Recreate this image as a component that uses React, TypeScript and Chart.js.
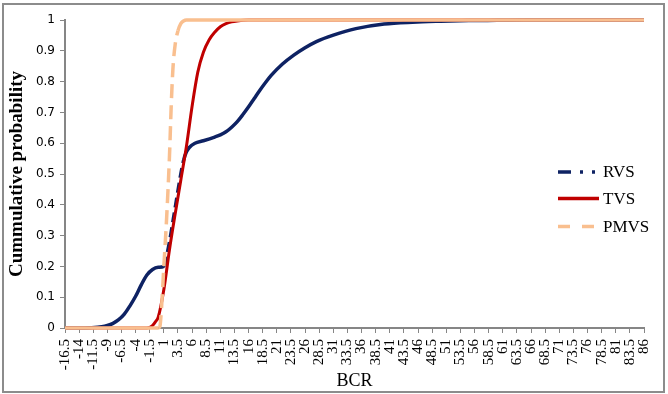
import React, { useEffect, useRef } from 'react';
import { Chart, registerables } from 'chart.js';

Chart.register(...registerables);

// ---- Data ----
const X_TICKS = [-16.5, -14, -11.5, -9, -6.5, -4, -1.5, 1, 3.5, 6, 8.5, 11, 13.5, 16, 18.5, 21, 23.5, 26, 28.5, 31, 33.5, 36, 38.5, 41, 43.5, 46, 48.5, 51, 53.5, 56, 58.5, 61, 63.5, 66, 68.5, 71, 73.5, 76, 78.5, 81, 83.5, 86];

const RVS_X = [-16.5, -14, -12, -10, -9, -8, -7, -6, -5, -4, -3, -2, -1, 0, 1, 1.5, 2, 3, 4, 4.5, 5, 5.5, 6.5, 8, 10, 11, 12, 13, 14, 15, 16, 17, 18, 19, 20, 22, 24, 26, 28, 31, 35, 40, 45, 50, 55, 60, 65, 86];
const RVS_Y = [0, 0, 0.001, 0.004, 0.008, 0.015, 0.027, 0.045, 0.072, 0.103, 0.14, 0.172, 0.19, 0.197, 0.2, 0.235, 0.28, 0.39, 0.5, 0.545, 0.572, 0.586, 0.6, 0.608, 0.62, 0.627, 0.637, 0.652, 0.67, 0.693, 0.718, 0.745, 0.772, 0.797, 0.82, 0.857, 0.886, 0.91, 0.93, 0.951, 0.972, 0.987, 0.993, 0.996, 0.998, 0.999, 1, 1];

const TVS_X = [-16.5, -2, -1.5, -1, -0.5, 0, 1, 2, 3, 4, 5, 6, 7, 8, 9, 10, 11, 12, 13, 14, 16, 86];
const TVS_Y = [0, 0, 0.002, 0.008, 0.02, 0.035, 0.125, 0.255, 0.37, 0.48, 0.59, 0.72, 0.83, 0.895, 0.935, 0.96, 0.978, 0.988, 0.994, 0.997, 1, 1];

const PMVS_X = [-16.5, 0, 0.3, 0.6, 1, 1.5, 2, 2.3, 2.6, 3, 3.5, 4, 4.5, 5, 86];
const PMVS_Y = [0, 0, 0.005, 0.07, 0.2, 0.36, 0.56, 0.72, 0.84, 0.92, 0.965, 0.988, 0.997, 1, 1];

const SERIES_NAMES = ['RVS', 'TVS', 'PMVS'];
const COLORS = ['#0e2263', '#c00000', '#f9bf8f'];

const toPoints = (xs: number[], ys: number[]) => xs.map((x, i) => ({ x, y: ys[i] }));

const AXIS_GRAY = '#868686';

const legendPlugin = {
  id: 'customLegend',
  afterDraw(chart: any) {
    const ctx = chart.ctx as CanvasRenderingContext2D;
    const rows = [172, 198.5, 226.5];
    const x0 = 558;
    const x1 = 599;
    ctx.save();
    SERIES_NAMES.forEach((name, i) => {
      const y = rows[i];
      ctx.beginPath();
      ctx.strokeStyle = COLORS[i];
      ctx.lineWidth = 3.5;
      ctx.lineCap = 'butt';
      if (i === 0) {
        ctx.setLineDash([13, 9, 3, 9, 3, 9]);
        ctx.moveTo(x0, y);
        ctx.lineTo(x1 - 3, y);
      } else if (i === 1) {
        ctx.setLineDash([]);
        ctx.moveTo(x0, y);
        ctx.lineTo(x1, y);
      } else {
        ctx.setLineDash([12, 12]);
        ctx.moveTo(x0, y);
        ctx.lineTo(x1 - 5, y);
      }
      ctx.stroke();
      ctx.setLineDash([]);
      ctx.fillStyle = '#000';
      ctx.font = '17px "Liberation Serif"';
      ctx.textBaseline = 'middle';
      ctx.textAlign = 'left';
      ctx.fillText(name, 603, y + 1);
    });
    ctx.restore();
  },
};

export default function App() {
  const canvasRef = useRef<HTMLCanvasElement | null>(null);

  useEffect(() => {
    if (!canvasRef.current) return;
    const chart = new Chart(canvasRef.current, {
      type: 'line',
      data: {
        datasets: [
          {
            label: SERIES_NAMES[0],
            data: toPoints(RVS_X, RVS_Y),
            borderColor: COLORS[0],
            borderWidth: 3.5,
            pointRadius: 0,
            cubicInterpolationMode: 'monotone',
            order: 3,
            clip: false,
            segment: {
              borderDash: (c: any) => (c.p0.parsed.x >= 1 && c.p1.parsed.x <= 4.5 ? [10, 5] : undefined),
            },
          } as any,
          {
            label: SERIES_NAMES[1],
            data: toPoints(TVS_X, TVS_Y),
            borderColor: COLORS[1],
            borderWidth: 3,
            pointRadius: 0,
            cubicInterpolationMode: 'monotone',
            order: 2,
            clip: false,
          } as any,
          {
            label: SERIES_NAMES[2],
            data: toPoints(PMVS_X, PMVS_Y),
            borderColor: COLORS[2],
            borderWidth: 3.5,
            pointRadius: 0,
            cubicInterpolationMode: 'monotone',
            order: 1,
            clip: false,
            segment: {
              borderDash: (c: any) => (c.p0.parsed.x >= 0 && c.p1.parsed.x <= 3.5 ? [14, 7] : undefined),
            },
          } as any,
        ],
      },
      options: {
        animation: false,
        responsive: false,
        maintainAspectRatio: false,
        layout: { padding: { left: 0, top: 20, right: 13, bottom: 0 } },
        plugins: {
          legend: { display: false },
          tooltip: { enabled: false },
        },
        scales: {
          x: {
            type: 'linear',
            min: -16.5,
            max: 86,
            afterBuildTicks: (scale: any) => {
              scale.ticks = X_TICKS.map((v) => ({ value: v }));
            },
            afterFit: (scale: any) => {
              scale.height = 66;
            },
            ticks: {
              autoSkip: false,
              maxRotation: 90,
              minRotation: 90,
              padding: 6,
              color: '#000',
              font: { family: '"Liberation Serif"', size: 15 },
              callback: (v: any) => String(v),
            },
            grid: {
              display: true,
              drawOnChartArea: false,
              drawTicks: true,
              tickLength: 5,
              color: AXIS_GRAY,
              lineWidth: 1,
            },
            border: { display: true, color: AXIS_GRAY, width: 2 },
            title: {
              display: true,
              text: 'BCR',
              color: '#000',
              font: { family: '"Liberation Serif"', size: 18 },
              padding: { top: 0, bottom: 2 },
            },
          },
          y: {
            type: 'linear',
            min: 0,
            max: 1,
            afterFit: (scale: any) => {
              scale.width = 65;
            },
            ticks: {
              stepSize: 0.1,
              padding: 5,
              color: '#000',
              font: { family: '"DejaVu Sans"', size: 12 },
              callback: (v: any) => String(Number(Number(v).toFixed(1))),
            },
            grid: {
              display: true,
              drawOnChartArea: false,
              drawTicks: true,
              tickLength: 5,
              color: AXIS_GRAY,
              lineWidth: 1,
            },
            border: { display: true, color: AXIS_GRAY, width: 2 },
            title: {
              display: true,
              text: 'Cummulative probability',
              color: '#000',
              font: { family: '"Liberation Serif"', size: 19, weight: 'bold' },
              padding: { top: 6, bottom: 0 },
            },
          },
        },
      } as any,
      plugins: [legendPlugin],
    });
    return () => chart.destroy();
  }, []);

  return (
    <div style={{ position: 'fixed', left: 0, top: 0, width: 668, height: 394, background: '#fff' }}>
      <canvas ref={canvasRef} width={668} height={394} style={{ display: 'block', width: 668, height: 394 }} />
      <div
        style={{
          position: 'absolute',
          left: 2,
          top: 3,
          width: 663,
          height: 390,
          boxSizing: 'border-box',
          border: '2px solid #8c8c8c',
          pointerEvents: 'none',
        }}
      />
    </div>
  );
}
